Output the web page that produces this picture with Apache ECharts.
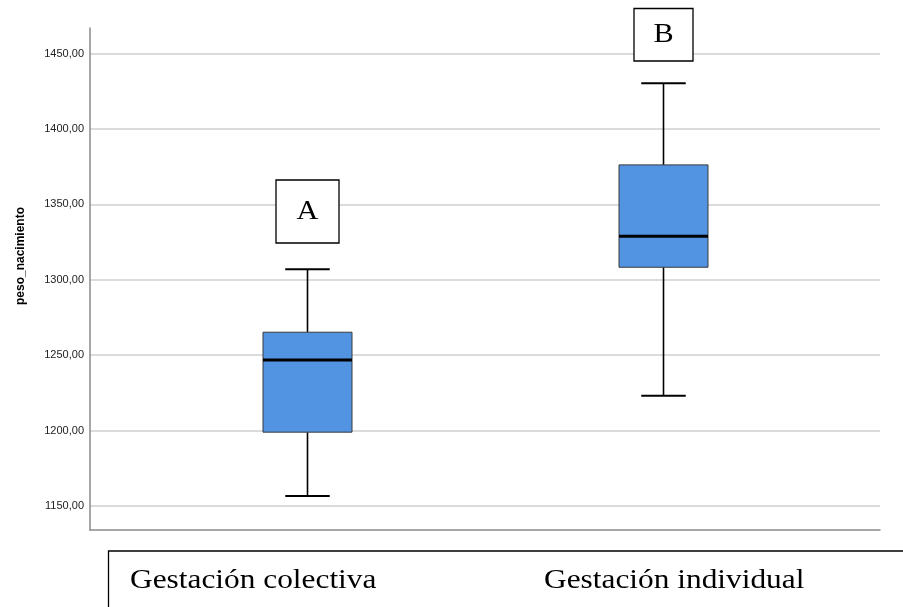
<!DOCTYPE html>
<html>
<head>
<meta charset="utf-8">
<script src="https://cdn.jsdelivr.net/npm/echarts@6/dist/echarts.min.js"></script>
<style>
  html, body { margin: 0; padding: 0; background: #fff; }
  #chart { width: 903px; height: 607px; }
</style>
</head>
<body>
<div id="chart"></div>
<script>
// data
const categories = ['Gestación colectiva', 'Gestación individual'];
const groupLetters = ['A', 'B'];
const minVals = [1156.6, 1223.0];
const q1Vals = [1198.9, 1308.3];
const medianVals = [1246.8, 1328.9];
const q3Vals = [1265.2, 1376.2];
const maxVals = [1307.0, 1430.4];
const yTicks = [1150, 1200, 1250, 1300, 1350, 1400, 1450];
const yName = 'peso_nacimiento';

const boxData = categories.map(function (c, i) {
    return [i, minVals[i], q1Vals[i], medianVals[i], q3Vals[i], maxVals[i]];
});

function renderBox(params, api) {
    let x = api.value(0);
    let pMin = api.coord([x, api.value(1)]);
    let pQ1 = api.coord([x, api.value(2)]);
    let pMed = api.coord([x, api.value(3)]);
    let pQ3 = api.coord([x, api.value(4)]);
    let pMax = api.coord([x, api.value(5)]);
    let band = api.size([1, 0])[0];
    let bw = band * 0.25;
    let cw = bw * 0.5;
    let cx = pMin[0];
    let whisker = { stroke: '#000', lineWidth: 1.6 };
    return {
        type: 'group',
        children: [
            { type: 'line', shape: { x1: cx, y1: pMax[1], x2: cx, y2: pQ3[1] }, style: whisker },
            { type: 'line', shape: { x1: cx, y1: pQ1[1], x2: cx, y2: pMin[1] }, style: whisker },
            { type: 'line', shape: { x1: cx - cw / 2, y1: pMax[1], x2: cx + cw / 2, y2: pMax[1] }, style: { stroke: '#000', lineWidth: 2 } },
            { type: 'line', shape: { x1: cx - cw / 2, y1: pMin[1], x2: cx + cw / 2, y2: pMin[1] }, style: { stroke: '#000', lineWidth: 2 } },
            { type: 'rect', shape: { x: cx - bw / 2, y: pQ3[1], width: bw, height: pQ1[1] - pQ3[1] },
              style: { fill: '#5293e2', stroke: '#3a3a3a', lineWidth: 1 } },
            { type: 'line', shape: { x1: cx - bw / 2, y1: pMed[1], x2: cx + bw / 2, y2: pMed[1] }, style: { stroke: '#000', lineWidth: 3 } }
        ]
    };
}

const serif = 'Liberation Serif, Times New Roman, serif';

const option = {
    animation: false,
    backgroundColor: '#fff',
    grid: [
        { left: 90, right: 23, top: 28, bottom: 77 },
        { left: 129.5, width: 712, top: 28, bottom: 77 }
    ],
    xAxis: [
        {
            type: 'value', gridIndex: 0, min: 0, max: 1,
            axisLine: { show: true, onZero: false, lineStyle: { color: '#8a8a8a', width: 1.5 } },
            axisTick: { show: false }, axisLabel: { show: false }, splitLine: { show: false }
        },
        {
            type: 'category', gridIndex: 1, data: categories, show: false
        }
    ],
    yAxis: [
        {
            type: 'value', gridIndex: 0, min: 1134, max: 1467,
            axisLine: { show: true, lineStyle: { color: '#8a8a8a', width: 1.5 } },
            axisTick: { show: false, customValues: yTicks },
            axisLabel: {
                customValues: yTicks, margin: 6, color: '#222',
                fontFamily: 'Liberation Sans, Arial, sans-serif', fontSize: 11,
                formatter: function (v) { return v.toFixed(2).replace('.', ','); }
            },
            splitLine: { show: true, lineStyle: { color: '#cfcfcf', width: 1.5 } }
        },
        {
            type: 'value', gridIndex: 1, min: 1134, max: 1467, show: false,
            splitLine: { show: false }
        }
    ],
    series: [
        {
            type: 'custom',
            xAxisIndex: 1, yAxisIndex: 1,
            renderItem: renderBox,
            encode: { x: 0, y: [1, 2, 3, 4, 5] },
            data: boxData,
            z: 5
        }
    ],
    graphic: [
        { type: 'text', z: 100, x: 21, y: 256, rotation: Math.PI / 2,
          style: { text: yName, font: 'bold 12px Liberation Sans, Arial, sans-serif', fill: '#000', textAlign: 'center', textVerticalAlign: 'middle' } },
        // letter boxes
        { type: 'rect', z: 100, shape: { x: 276, y: 180, width: 63, height: 63 },
          style: { fill: '#fff', stroke: '#000', lineWidth: 1.3 } },
        { type: 'text', z: 101, x: 307.5, y: 212, scaleX: 1.12,
          style: { text: groupLetters[0], font: '27px ' + serif, fill: '#000', textAlign: 'center', textVerticalAlign: 'middle' } },
        { type: 'rect', z: 100, shape: { x: 634, y: 8.5, width: 59, height: 52.5 },
          style: { fill: '#fff', stroke: '#000', lineWidth: 1.3 } },
        { type: 'text', z: 101, x: 663.5, y: 35, scaleX: 1.12,
          style: { text: groupLetters[1], font: '27px ' + serif, fill: '#000', textAlign: 'center', textVerticalAlign: 'middle' } },
        // category box at the bottom
        { type: 'rect', z: 100, shape: { x: 108.5, y: 551, width: 900, height: 100 },
          style: { fill: 'none', stroke: '#000', lineWidth: 1.3 } },
        { type: 'text', z: 101, x: 130, y: 581, scaleX: 1.12,
          style: { text: categories[0], font: '28px ' + serif, fill: '#000', textAlign: 'left', textVerticalAlign: 'middle' } },
        { type: 'text', z: 101, x: 544, y: 581, scaleX: 1.12,
          style: { text: categories[1], font: '28px ' + serif, fill: '#000', textAlign: 'left', textVerticalAlign: 'middle' } }
    ]
};

const chart = echarts.init(document.getElementById('chart'));
chart.setOption(option);
window.addEventListener('resize', function () {
    chart.resize();
});
</script>
</body>
</html>
